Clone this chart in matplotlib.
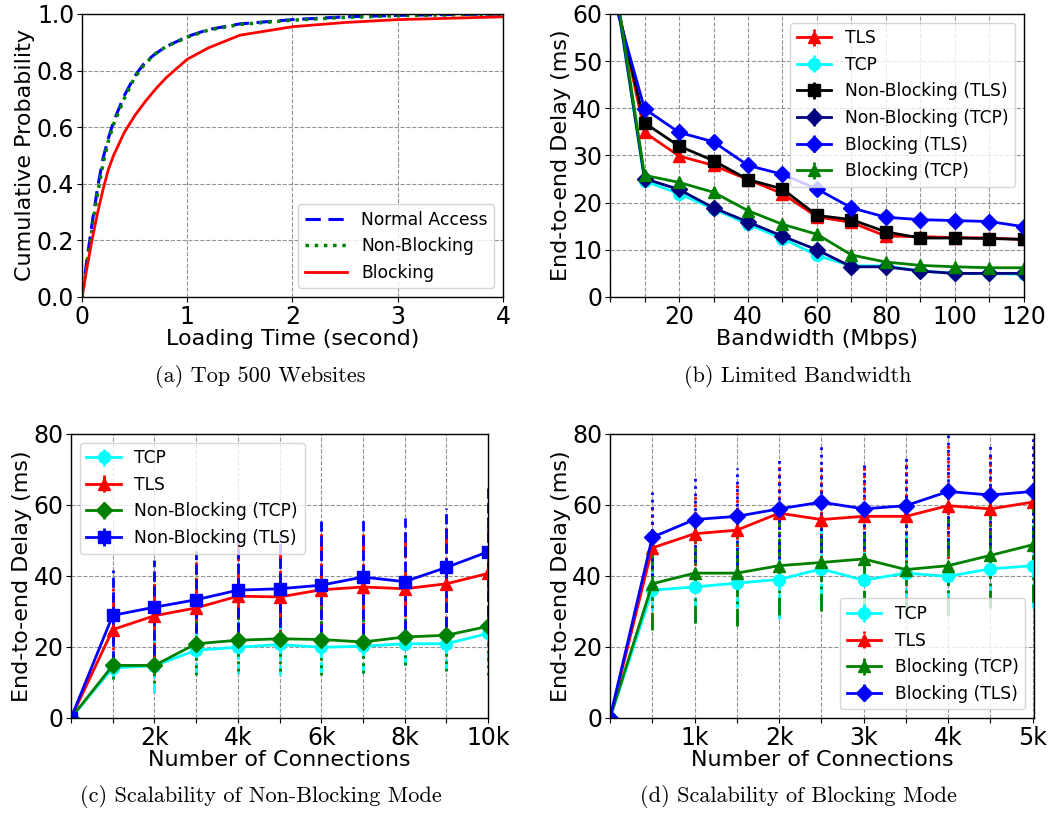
import matplotlib.pyplot as plt

# (a) CDF of loading time for the top 500 websites
cdf_time = [0, 0.05, 0.1, 0.15, 0.2, 0.25, 0.3, 0.4, 0.5, 0.6, 0.7, 0.8,
            1.0, 1.2, 1.5, 2.0, 2.5, 3.0, 3.5, 4.0]
cdf_normal = [0, 0.14, 0.27, 0.39, 0.49, 0.56, 0.62, 0.71, 0.78, 0.83, 0.86,
              0.885, 0.92, 0.945, 0.965, 0.98, 0.99, 0.995, 0.998, 1.0]
cdf_nonblock = [0, 0.12, 0.25, 0.37, 0.47, 0.55, 0.61, 0.70, 0.775, 0.825, 0.86,
                0.885, 0.918, 0.943, 0.963, 0.978, 0.988, 0.994, 0.997, 1.0]
cdf_block = [0, 0.11, 0.21, 0.30, 0.38, 0.45, 0.50, 0.58, 0.64, 0.69, 0.735,
             0.775, 0.84, 0.88, 0.925, 0.955, 0.97, 0.98, 0.985, 0.99]

# (b) limited bandwidth
bw = [1, 10, 20, 30, 40, 50, 60, 70, 80, 90, 100, 110, 120]
bw_tls = [66, 34.9, 29.9, 27.9, 24.9, 21.9, 17.0, 15.8, 12.9, 12.8, 12.6, 12.5, 12.2]
bw_tcp = [68, 24.6, 21.9, 18.7, 15.4, 12.4, 8.8, 6.6, 6.6, 5.5, 5.0, 5.0, 4.8]
bw_nb_tls = [65, 36.9, 32.0, 28.9, 24.9, 22.9, 17.3, 16.4, 13.8, 12.5, 12.5, 12.4, 12.2]
bw_nb_tcp = [68, 25.1, 22.8, 18.9, 15.9, 12.9, 10.0, 6.4, 6.4, 5.5, 5.0, 5.0, 5.0]
bw_b_tls = [63.5, 39.9, 34.9, 32.9, 27.9, 26.0, 22.9, 18.9, 16.9, 16.4, 16.2, 16.0, 14.9]
bw_b_tcp = [69, 25.8, 24.3, 22.2, 18.3, 15.4, 13.3, 8.9, 7.4, 6.7, 6.4, 6.2, 6.2]
bw_err = [0] * len(bw)

# (c) scalability of non-blocking mode
nb_conn = [0, 1000, 2000, 3000, 4000, 5000, 6000, 7000, 8000, 9000, 10000]
nb_tcp = [0, 14.1, 14.7, 19.1, 19.9, 20.7, 19.9, 20.2, 20.9, 20.9, 23.8]
nb_tcp_err = [0, 3, 7.6, 6.5, 7.5, 8.5, 7, 7.5, 6, 7, 8]
nb_tls = [0, 24.9, 28.8, 31.0, 34.3, 34.1, 36.1, 36.9, 36.4, 37.8, 40.7]
nb_tls_err = [0, 12, 12.5, 13, 15, 14, 16, 15, 16, 16, 16]
nb_nbtcp = [0, 14.8, 14.8, 20.9, 21.9, 22.3, 22.1, 21.4, 22.8, 23.3, 25.8]
nb_nbtcp_err = [0, 3.8, 4.9, 8.7, 8.8, 9, 9.9, 8.7, 7.8, 10.2, 13.6]
nb_nbtls = [0, 28.9, 31.2, 33.3, 36.0, 36.4, 37.4, 39.7, 38.4, 42.4, 46.8]
nb_nbtls_err = [0, 12.9, 13.4, 13.6, 16, 15, 18, 16.1, 17.9, 16.7, 18]

# (d) scalability of blocking mode
b_conn = [0, 500, 1000, 1500, 2000, 2500, 3000, 3500, 4000, 4500, 5000]
b_tcp = [0, 36.0, 36.9, 38.0, 39.0, 42.0, 38.8, 40.8, 39.9, 42.0, 42.9]
b_tcp_err = [0, 10, 10, 11, 11, 11, 10, 11, 11, 11, 12]
b_tls = [0, 47.9, 51.9, 52.9, 57.7, 55.9, 56.8, 56.8, 59.8, 58.9, 60.8]
b_tls_err = [0, 12, 11, 13, 14.5, 15, 14, 15, 17, 15, 16]
b_btcp = [0, 37.8, 40.8, 40.8, 42.9, 43.8, 44.8, 41.8, 42.9, 45.8, 48.8]
b_btcp_err = [0, 12.9, 14, 15, 13.8, 13.8, 13.8, 12.8, 13.9, 14.8, 16]
b_btls = [0, 50.9, 55.9, 56.8, 58.9, 60.8, 58.9, 59.8, 63.8, 62.8, 63.8]
b_btls_err = [0, 12.9, 12, 13.6, 14, 16.2, 13.4, 14.4, 16, 14.2, 17]

TICK = 17
LAB = 16
LEG = 12.3
CAP = 16


def style(ax):
    ax.grid(True, linestyle='--', color='gray', linewidth=0.8, alpha=0.85)
    ax.tick_params(labelsize=TICK, pad=2)
    for s in ax.spines.values():
        s.set_linewidth(1.0)


def eb(ax, x, y, e, color, marker, label, ls='--', ms=8.5):
    c = ax.errorbar(x, y, yerr=e, color=color, marker=marker, ms=ms,
                    lw=2, label=label, elinewidth=2)
    c[2][0].set_linestyle(ls)
    return c


fig = plt.figure(figsize=(10.62, 8.13), dpi=100)

# (a)
ax = fig.add_axes([0.0772, 0.6347, 0.3964, 0.3481])
ax.plot(cdf_time, cdf_normal, color='blue', ls=(0, (5, 2.5)), lw=2.2,
        label='Normal Access')
ax.plot(cdf_time, cdf_nonblock, color='green', ls=':', lw=2.5,
        label='Non-Blocking')
ax.plot(cdf_time, cdf_block, color='red', lw=2, label='Blocking')
ax.set_xlim(0, 4)
ax.set_ylim(0, 1)
ax.set_xticks([0, 1, 2, 3, 4])
ax.set_yticks([0, 0.2, 0.4, 0.6, 0.8, 1.0])
ax.set_xlabel('Loading Time (second)', fontsize=LAB, labelpad=0)
ax.set_ylabel('Cumulative Probability', fontsize=LAB, labelpad=1)
style(ax)
ax.legend(loc='lower right', fontsize=LEG, handlelength=2.5)

# (b)
ax = fig.add_axes([0.5744, 0.6347, 0.3898, 0.3481])
eb(ax, bw, bw_tls, bw_err, 'red', '^', 'TLS')
eb(ax, bw, bw_tcp, bw_err, 'cyan', 'o', 'TCP')
eb(ax, bw, bw_nb_tls, bw_err, 'black', 's', 'Non-Blocking (TLS)')
eb(ax, bw, bw_nb_tcp, bw_err, 'navy', 'D', 'Non-Blocking (TCP)')
eb(ax, bw, bw_b_tls, bw_err, 'blue', 'D', 'Blocking (TLS)')
eb(ax, bw, bw_b_tcp, bw_err, 'green', '^', 'Blocking (TCP)')
ax.set_xlim(0, 120)
ax.set_ylim(0, 60)
ax.set_xticks(range(0, 121, 10),
              ['' if v % 20 or v == 0 else str(v) for v in range(0, 121, 10)])
ax.set_yticks(range(0, 61, 10))
ax.set_xlabel('Bandwidth (Mbps)', fontsize=LAB, labelpad=0)
ax.set_ylabel('End-to-end Delay (ms)', fontsize=LAB, labelpad=1)
style(ax)
ax.legend(loc='upper right', fontsize=LEG)

# (c)
ax = fig.add_axes([0.0669, 0.1169, 0.3926, 0.3493])
eb(ax, nb_conn, nb_tcp, nb_tcp_err, 'cyan', 'o', 'TCP', ls='--')
eb(ax, nb_conn, nb_tls, nb_tls_err, 'red', '^', 'TLS', ls='-.')
eb(ax, nb_conn, nb_nbtcp, nb_nbtcp_err, 'green', 'D', 'Non-Blocking (TCP)', ls=':')
eb(ax, nb_conn, nb_nbtls, nb_nbtls_err, 'blue', 's', 'Non-Blocking (TLS)', ls='--')
ax.set_xlim(0, 10000)
ax.set_ylim(0, 80)
ax.set_xticks(nb_conn, ['', '', '2k', '', '4k', '', '6k', '', '8k', '', '10k'])
ax.set_yticks(range(0, 81, 20))
ax.set_xlabel('Number of Connections', fontsize=LAB, labelpad=0)
ax.set_ylabel('End-to-end Delay (ms)', fontsize=LAB, labelpad=1)
style(ax)
ax.legend(loc='upper left', fontsize=LEG)

# (d)
ax = fig.add_axes([0.5744, 0.1169, 0.3992, 0.3493])
eb(ax, b_conn, b_tcp, b_tcp_err, 'cyan', 'o', 'TCP', ls='--')
eb(ax, b_conn, b_tls, b_tls_err, 'red', '^', 'TLS', ls=':')
eb(ax, b_conn, b_btcp, b_btcp_err, 'green', '^', 'Blocking (TCP)', ls='-.')
eb(ax, b_conn, b_btls, b_btls_err, 'blue', 'D', 'Blocking (TLS)', ls=':')
ax.set_xlim(0, 5015)
ax.set_ylim(0, 80)
ax.set_xticks(b_conn, ['', '', '1k', '', '2k', '', '3k', '', '4k', '', '5k'])
ax.set_yticks(range(0, 81, 20))
ax.set_xlabel('Number of Connections', fontsize=LAB, labelpad=0)
ax.set_ylabel('End-to-end Delay (ms)', fontsize=LAB, labelpad=1)
style(ax)
ax.legend(loc='lower right', fontsize=LEG)

captions = ['(a) Top 500 Websites', '(b) Limited Bandwidth',
            '(c) Scalability of Non-Blocking Mode',
            '(d) Scalability of Blocking Mode']
cap_pos = [(0.245, 0.5363), (0.7514, 0.5363), (0.2453, 0.0197), (0.7519, 0.0197)]
for t, (cx, cy) in zip(captions, cap_pos):
    fig.text(cx, cy, t, ha='center', va='center', fontsize=CAP,
             family=['cmr10', 'DejaVu Serif'])

fig.savefig('out.png', dpi=100)
